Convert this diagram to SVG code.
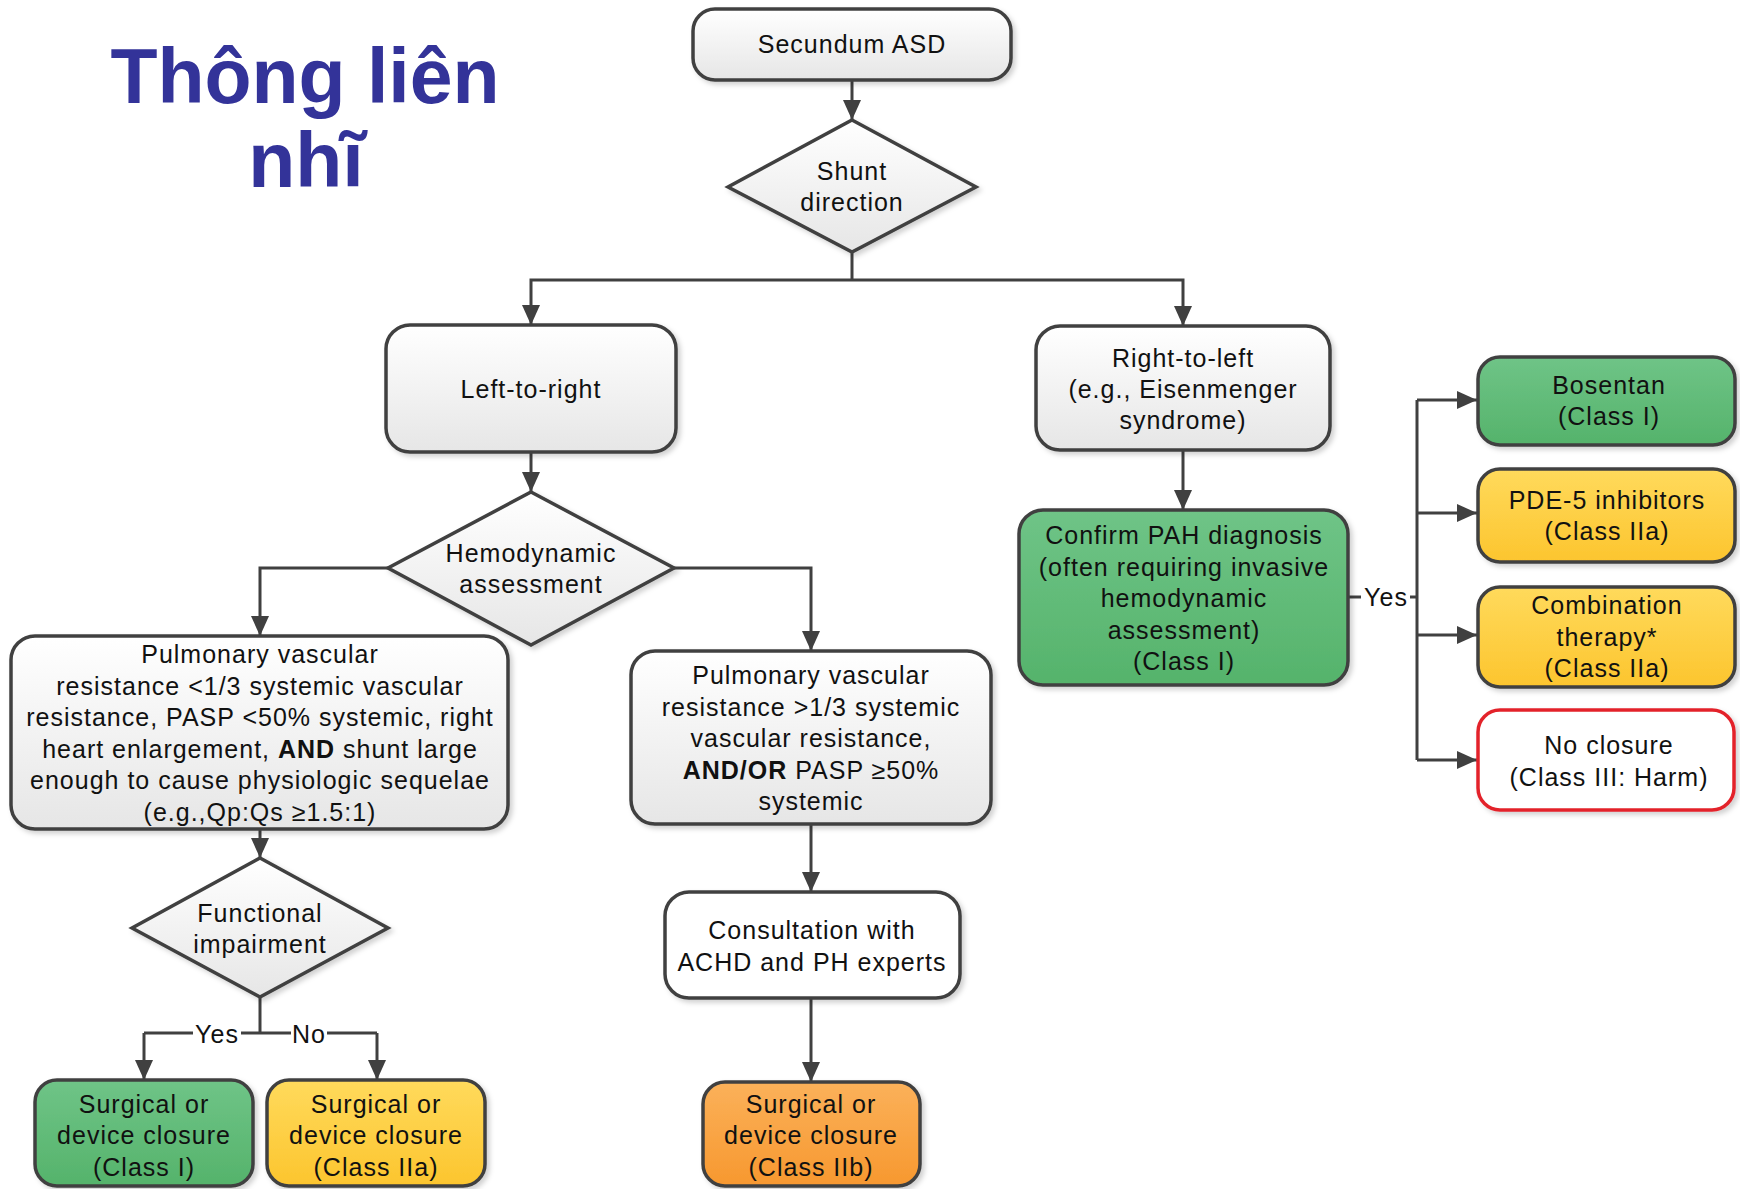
<svg xmlns="http://www.w3.org/2000/svg" width="1740" height="1189" viewBox="0 0 1740 1189">
  <defs>
    <style>
      .box { stroke: #404040; stroke-width: 3.5; filter: url(#shadow); }
      .gray { fill: url(#gGray); }
      .green { fill: url(#gGreen); }
      .yellow { fill: url(#gYellow); }
      .orange { fill: url(#gOrange); }
      .white { fill: #ffffff; }
      .red { stroke: #e3242b; }
      .t { font-family: "Liberation Sans", Arial, sans-serif; font-size: 25px; letter-spacing: 1px; text-anchor: middle; fill: #111111; }
      .b { font-weight: bold; }
      .title { font-family: "Liberation Sans", Arial, sans-serif; font-size: 77px; font-weight: bold; text-anchor: middle; fill: #333399; }
      .link { fill: none; stroke: #404040; stroke-width: 3; }
      .arrow { marker-end: url(#arr); }
    </style>
    <linearGradient id="gGray" x1="0" y1="0" x2="0" y2="1">
      <stop offset="0" stop-color="#ffffff"/>
      <stop offset="1" stop-color="#e6e6e6"/>
    </linearGradient>
    <linearGradient id="gGreen" x1="0" y1="0" x2="0" y2="1">
      <stop offset="0" stop-color="#6fc487"/>
      <stop offset="1" stop-color="#55b36b"/>
    </linearGradient>
    <linearGradient id="gYellow" x1="0" y1="0" x2="0" y2="1">
      <stop offset="0" stop-color="#ffda5c"/>
      <stop offset="1" stop-color="#fcc52e"/>
    </linearGradient>
    <linearGradient id="gOrange" x1="0" y1="0" x2="0" y2="1">
      <stop offset="0" stop-color="#fbb15a"/>
      <stop offset="1" stop-color="#f7982f"/>
    </linearGradient>
    <filter id="shadow" x="-10%" y="-10%" width="125%" height="130%">
      <feDropShadow dx="3" dy="3" stdDeviation="2.5" flood-color="#000000" flood-opacity="0.18"/>
    </filter>
    <marker id="arr" viewBox="0 0 20 18" refX="20" refY="9" markerWidth="20" markerHeight="18" markerUnits="userSpaceOnUse" orient="auto">
      <path d="M0,0 L20,9 L0,18 z" fill="#404040"/>
    </marker>
  </defs>

  <rect width="1740" height="1189" fill="#ffffff"/>

  <!-- heading -->
  <g id="title">
    <text class="title" x="305" y="103">Thông liên</text>
    <text class="title" x="306" y="187">nhĩ</text>
  </g>

  <!-- connectors -->
  <g id="connectors">
    <path class="link arrow" d="M852,80 V120"/>
    <path class="link" d="M852,252 V280"/>
    <path class="link arrow" d="M852,280 H531 V325"/>
    <path class="link arrow" d="M852,280 H1183 V326"/>
    <path class="link arrow" d="M531,452 V492"/>
    <path class="link arrow" d="M388,568 H260 V636"/>
    <path class="link arrow" d="M674,568 H811 V651"/>
    <path class="link arrow" d="M260,829 V858"/>
    <path class="link" d="M260,997 V1033"/>
    <path class="link" d="M193,1033 H144"/>
    <path class="link arrow" d="M144,1033 V1080"/>
    <path class="link" d="M241,1033 H291"/>
    <path class="link" d="M327,1033 H377"/>
    <path class="link arrow" d="M377,1033 V1080"/>
    <text class="t" x="217" y="1043">Yes</text>
    <text class="t" x="309" y="1043">No</text>
    <path class="link arrow" d="M811,824 V892"/>
    <path class="link arrow" d="M811,998 V1082"/>
    <path class="link arrow" d="M1183,450 V510"/>
    <path class="link" d="M1348,597 H1361"/>
    <path class="link" d="M1410,597 H1417"/>
    <text class="t" x="1386" y="606">Yes</text>
    <path class="link" d="M1417,400 V760"/>
    <path class="link arrow" d="M1417,400 H1477"/>
    <path class="link arrow" d="M1417,513 H1477"/>
    <path class="link arrow" d="M1417,635 H1477"/>
    <path class="link arrow" d="M1417,760 H1477"/>
  </g>

  <!-- nodes -->
  <g id="secundum-asd">
    <rect class="box gray" x="693" y="9" width="318" height="71" rx="22"/>
    <text class="t" x="852" y="53">Secundum ASD</text>
  </g>

  <g id="shunt-direction">
    <polygon class="box gray" points="852,120 976,187 852,252 728,187"/>
    <text class="t" x="852" y="180">Shunt</text>
    <text class="t" x="852" y="211">direction</text>
  </g>

  <g id="left-to-right">
    <rect class="box gray" x="386" y="325" width="290" height="127" rx="24"/>
    <text class="t" x="531" y="398">Left-to-right</text>
  </g>

  <g id="right-to-left">
    <rect class="box gray" x="1036" y="326" width="294" height="124" rx="24"/>
    <text class="t" x="1183" y="367">Right-to-left</text>
    <text class="t" x="1183" y="398">(e.g., Eisenmenger</text>
    <text class="t" x="1183" y="429">syndrome)</text>
  </g>

  <g id="hemodynamic-assessment">
    <polygon class="box gray" points="531,492 674,568 531,645 388,568"/>
    <text class="t" x="531" y="562">Hemodynamic</text>
    <text class="t" x="531" y="593">assessment</text>
  </g>

  <g id="pvr-low">
    <rect class="box gray" x="11" y="636" width="497" height="193" rx="24"/>
    <text class="t" x="260" y="663">Pulmonary vascular</text>
    <text class="t" x="260" y="695">resistance &lt;1/3 systemic vascular</text>
    <text class="t" x="260" y="726">resistance, PASP &lt;50% systemic, right</text>
    <text class="t" x="260" y="758">heart enlargement, <tspan class="b">AND</tspan> shunt large</text>
    <text class="t" x="260" y="789">enough to cause physiologic sequelae</text>
    <text class="t" x="260" y="821">(e.g.,Qp:Qs ≥1.5:1)</text>
  </g>

  <g id="pvr-high">
    <rect class="box gray" x="631" y="651" width="360" height="173" rx="24"/>
    <text class="t" x="811" y="684">Pulmonary vascular</text>
    <text class="t" x="811" y="716">resistance &gt;1/3 systemic</text>
    <text class="t" x="811" y="747">vascular resistance,</text>
    <text class="t" x="811" y="779"><tspan class="b">AND/OR</tspan> PASP ≥50%</text>
    <text class="t" x="811" y="810">systemic</text>
  </g>

  <g id="functional-impairment">
    <polygon class="box gray" points="260,858 388,928 260,997 132,928"/>
    <text class="t" x="260" y="922">Functional</text>
    <text class="t" x="260" y="953">impairment</text>
  </g>

  <g id="closure-class-i">
    <rect class="box green" x="35" y="1080" width="218" height="106" rx="22"/>
    <text class="t" x="144" y="1113">Surgical or</text>
    <text class="t" x="144" y="1144">device closure</text>
    <text class="t" x="144" y="1176">(Class I)</text>
  </g>

  <g id="closure-class-iia">
    <rect class="box yellow" x="267" y="1080" width="218" height="106" rx="22"/>
    <text class="t" x="376" y="1113">Surgical or</text>
    <text class="t" x="376" y="1144">device closure</text>
    <text class="t" x="376" y="1176">(Class IIa)</text>
  </g>

  <g id="consultation">
    <rect class="box white" x="665" y="892" width="295" height="106" rx="24"/>
    <text class="t" x="812" y="939">Consultation with</text>
    <text class="t" x="812" y="971">ACHD and PH experts</text>
  </g>

  <g id="closure-class-iib">
    <rect class="box orange" x="703" y="1082" width="217" height="104" rx="22"/>
    <text class="t" x="811" y="1113">Surgical or</text>
    <text class="t" x="811" y="1144">device closure</text>
    <text class="t" x="811" y="1176">(Class IIb)</text>
  </g>

  <g id="confirm-pah">
    <rect class="box green" x="1019" y="510" width="329" height="175" rx="24"/>
    <text class="t" x="1184" y="544">Confirm PAH diagnosis</text>
    <text class="t" x="1184" y="576">(often requiring invasive</text>
    <text class="t" x="1184" y="607">hemodynamic</text>
    <text class="t" x="1184" y="639">assessment)</text>
    <text class="t" x="1184" y="670">(Class I)</text>
  </g>

  <g id="bosentan">
    <rect class="box green" x="1478" y="357" width="257" height="88" rx="22"/>
    <text class="t" x="1609" y="394">Bosentan</text>
    <text class="t" x="1609" y="425">(Class I)</text>
  </g>

  <g id="pde5-inhibitors">
    <rect class="box yellow" x="1478" y="469" width="257" height="93" rx="22"/>
    <text class="t" x="1607" y="509">PDE-5 inhibitors</text>
    <text class="t" x="1607" y="540">(Class IIa)</text>
  </g>

  <g id="combination-therapy">
    <rect class="box yellow" x="1478" y="587" width="257" height="100" rx="22"/>
    <text class="t" x="1607" y="614">Combination</text>
    <text class="t" x="1607" y="646">therapy*</text>
    <text class="t" x="1607" y="677">(Class IIa)</text>
  </g>

  <g id="no-closure">
    <rect class="box white red" x="1478" y="710" width="256" height="100" rx="22"/>
    <text class="t" x="1609" y="754">No closure</text>
    <text class="t" x="1609" y="786">(Class III: Harm)</text>
  </g>
</svg>
